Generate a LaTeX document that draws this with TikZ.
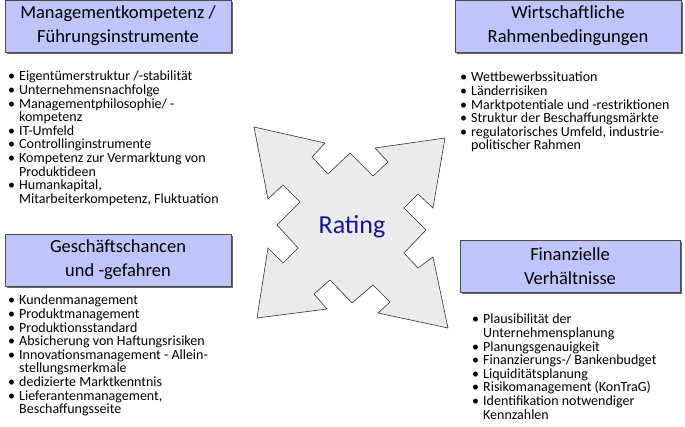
\documentclass[tikz,border=0pt]{standalone}
\usepackage{fontspec}
\setmainfont{Carlito}
\usetikzlibrary{positioning,shadows}
\definecolor{boxblue}{RGB}{190,196,252}
\definecolor{arrowgray}{RGB}{235,235,235}
\definecolor{ratingblue}{RGB}{20,20,160}
\newcommand{\itm}{\makebox[11pt][l]{\textbullet}}
\newcommand{\cnt}{\hspace*{11pt}}
\tikzset{
  titlebox/.style={draw=black!70, fill=boxblue, minimum width=226pt, minimum height=52pt,
    align=center, font=\fontsize{18.5}{24}\selectfont,
    drop shadow={shadow xshift=2pt, shadow yshift=-2pt, fill=black!60, opacity=1}},
  bullets/.style={align=left, anchor=north west, inner sep=0pt, font=\fontsize{14}{13.6}\selectfont}
}
\begin{document}
\begin{tikzpicture}[x=1pt, y=-1pt]
    \useasboundingbox (0,0) rectangle (685,426);
    % Titelboxen
    \node[titlebox] (mgmt) at (118,26) {Managementkompetenz /\\Führungsinstrumente};
    \node[titlebox] (wirt) at (568,26) {Wirtschaftliche\\Rahmenbedingungen};
    \node[titlebox] (gesch) at (118,260) {Geschäftschancen\\und -gefahren};
    \node[titlebox, minimum width=220pt] (fin) at (570,266) {Finanzielle\\Verhältnisse};

    % Listen
    \node[bullets] (mgmtlist) at (8,71) {%
      \itm Eigentümerstruktur /-stabilität\\
      \itm Unternehmensnachfolge\\
      \itm Managementphilosophie/ -\\
      \cnt kompetenz\\
      \itm IT-Umfeld\\
      \itm Controllinginstrumente\\
      \itm Kompetenz zur Vermarktung von\\
      \cnt Produktideen\\
      \itm Humankapital,\\
      \cnt Mitarbeiterkompetenz, Fluktuation};
    \node[bullets] (wirtlist) at (460,72) {%
      \itm Wettbewerbssituation\\
      \itm Länderrisiken\\
      \itm Marktpotentiale und -restriktionen\\
      \itm Struktur der Beschaffungsmärkte\\
      \itm regulatorisches Umfeld, industrie-\\
      \cnt politischer Rahmen};
    \node[bullets] (geschlist) at (8,295) {%
      \itm Kundenmanagement\\
      \itm Produktmanagement\\
      \itm Produktionsstandard\\
      \itm Absicherung von Haftungsrisiken\\
      \itm Innovationsmanagement - Allein-\\
      \cnt stellungsmerkmale\\
      \itm dedizierte Marktkenntnis\\
      \itm Lieferantenmanagement,\\
      \cnt Beschaffungsseite};
    \node[bullets] (finlist) at (472,314) {%
      \itm Plausibilität der\\
      \cnt Unternehmensplanung\\
      \itm Planungsgenauigkeit\\
      \itm Finanzierungs-/ Bankenbudget\\
      \itm Liquiditätsplanung\\
      \itm Risikomanagement (KonTraG)\\
      \itm Identifikation notwendiger\\
      \cnt Kennzahlen};

    % Vier-Wege-Pfeil
    \draw[fill=arrowgray, draw=black!80, line width=0.6pt]
      (254,127) -- (325,143) -- (312,157) -- (328,174) -- (350,153) -- (373,176)
      -- (388,162) -- (375,148) -- (445,138)
      -- (433,208) -- (418,194) -- (404,208) -- (426,230) -- (404,253) -- (418,268)
      -- (433,257) -- (448,328)
      -- (378,313) -- (390,302) -- (373,285) -- (352,303) -- (330,280) -- (314,294)
      -- (327,309) -- (257,318)
      -- (268,248) -- (283,263) -- (298,248) -- (277,225) -- (300,202) -- (283,185)
      -- (268,199) -- cycle;
    \node[text=ratingblue, font=\fontsize{26}{30}\selectfont] (rating) at (352,227) {Rating};
\end{tikzpicture}
\end{document}
